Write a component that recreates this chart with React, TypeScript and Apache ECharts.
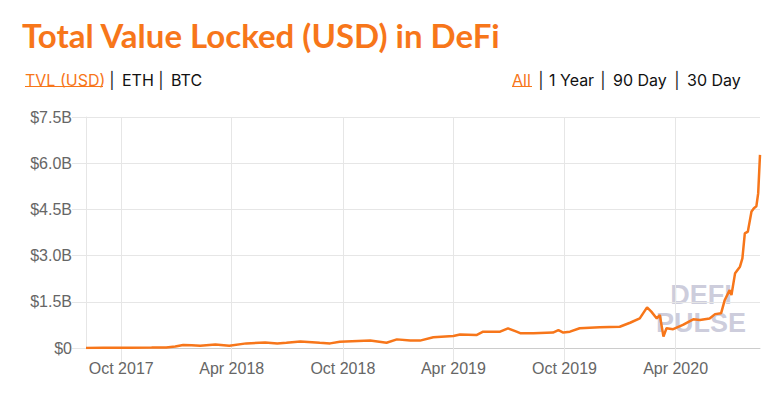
import React, { useEffect, useRef } from "react";
import * as echarts from "echarts";

const dates = [
  "2017-08-04", "2017-09-01", "2017-10-15", "2017-11-20", "2017-12-14", "2017-12-29",
  "2018-01-11", "2018-01-25", "2018-02-08", "2018-03-05", "2018-03-28", "2018-04-25",
  "2018-05-26", "2018-06-15", "2018-06-30", "2018-07-23", "2018-08-24", "2018-09-10",
  "2018-09-26", "2018-11-15", "2018-12-12", "2018-12-29", "2019-01-20", "2019-02-05",
  "2019-02-27", "2019-04-01", "2019-04-12", "2019-05-09", "2019-05-20", "2019-06-17",
  "2019-06-30", "2019-07-14", "2019-07-20", "2019-08-11", "2019-09-12", "2019-09-21",
  "2019-09-29", "2019-10-10", "2019-10-26", "2019-11-28", "2019-12-31", "2020-01-17",
  "2020-02-02", "2020-02-14", "2020-02-21", "2020-03-01", "2020-03-06", "2020-03-12",
  "2020-03-17", "2020-03-28", "2020-04-13", "2020-04-30", "2020-05-11", "2020-05-27",
  "2020-06-05", "2020-06-15", "2020-06-21", "2020-06-29", "2020-07-02", "2020-07-08",
  "2020-07-16", "2020-07-20", "2020-07-24", "2020-07-29", "2020-08-04", "2020-08-08",
  "2020-08-12", "2020-08-15", "2020-08-18",
];

// TVL in billions of USD
const tvlB = [
  0.0, 0.005, 0.01, 0.015, 0.02, 0.05,
  0.1, 0.09, 0.07, 0.11, 0.07, 0.15,
  0.18, 0.15, 0.17, 0.21, 0.17, 0.15,
  0.2, 0.24, 0.17, 0.28, 0.24, 0.24,
  0.35, 0.39, 0.44, 0.42, 0.53, 0.53,
  0.64, 0.53, 0.48, 0.48, 0.5, 0.58,
  0.5, 0.53, 0.64, 0.67, 0.69, 0.82,
  0.96, 1.32, 1.18, 0.96, 1.07, 0.37,
  0.64, 0.61, 0.75, 0.93, 0.91, 0.96,
  1.1, 1.13, 1.56, 1.88, 1.72, 2.43,
  2.64, 2.91, 3.72, 3.78, 4.43, 4.54,
  4.6, 5.02, 6.27,
];

const xTicks = ["2017-10-01", "2018-04-01", "2018-10-01", "2019-04-01", "2019-10-01", "2020-04-01"];
const monthNames = ["Jan", "Feb", "Mar", "Apr", "May", "Jun", "Jul", "Aug", "Sep", "Oct", "Nov", "Dec"];

const xMin = "2017-08-04";
const xMax = "2020-08-18";
const yMax = 7.5;
const yStep = 1.5;

const ORANGE = "#f7761a";
const GRID = "#e6e6e6";

export default function App() {
  const ref = useRef<HTMLDivElement>(null);

  useEffect(() => {
    if (!ref.current) return;
    const chart = echarts.init(ref.current, undefined, { renderer: "svg" });
    const ts = (s: string) => Date.parse(s + "T00:00:00Z");
    const data = dates.map((d, i) => [ts(d), tvlB[i]]);
    const tickVals = xTicks.map(ts);
    const linkFont = { fontFamily: "Inter", fontSize: 16 };
    const txt = (x: number, text: string, fill: string, align = "left") => ({
      type: "text",
      x,
      y: 80,
      style: { text, fill, ...linkFont, textAlign: align, textVerticalAlign: "middle" },
    });
    const wm = (text: string, y: number) => ({
      type: "text",
      x: 701,
      y,
      z: -10,
      style: {
        text,
        fill: "rgba(196,196,214,0.85)",
        fontFamily: "Liberation Sans",
        fontWeight: "bold",
        fontSize: 27,
        textAlign: "center",
        textVerticalAlign: "middle",
        textShadowColor: "rgba(150,150,175,0.35)",
        textShadowOffsetX: -2,
        textShadowOffsetY: 1,
        textShadowBlur: 0,
      },
    });
    chart.setOption({
      animation: false,
      backgroundColor: "#ffffff",
      grid: { left: 86, right: 19, top: 117, bottom: 45, containLabel: false },
      xAxis: {
        type: "value",
        min: ts(xMin),
        max: ts(xMax),
        axisLine: { show: true, lineStyle: { color: "#cccccc", width: 1 } },
        axisTick: { show: true, length: 14, lineStyle: { color: GRID }, customValues: tickVals },
        splitLine: { show: true, lineStyle: { color: GRID, width: 1 } },
        axisLabel: {
          customValues: tickVals,
          color: "#666666",
          fontFamily: "Liberation Sans",
          fontSize: 16,
          margin: 12,
          formatter: (v: number) => {
            const d = new Date(v);
            return monthNames[d.getUTCMonth()] + " " + d.getUTCFullYear();
          },
        },
      },
      yAxis: {
        type: "value",
        min: 0,
        max: yMax,
        interval: yStep,
        axisLine: { show: true, lineStyle: { color: GRID } },
        axisTick: { show: true, length: 14, lineStyle: { color: GRID } },
        splitLine: { show: true, lineStyle: { color: GRID } },
        axisLabel: {
          color: "#666666",
          fontFamily: "Liberation Sans",
          fontSize: 16,
          margin: 14,
          formatter: (v: number) => (v === 0 ? "$0" : "$" + v.toFixed(1) + "B"),
        },
      },
      graphic: [
        {
          type: "text",
          x: 22,
          y: 35,
          style: {
            text: "Total Value Locked (USD) in DeFi",
            fill: ORANGE,
            fontFamily: "Lato",
            fontWeight: "bold",
            fontSize: 33,
            textVerticalAlign: "middle",
          },
        },
        txt(25, "TVL (USD)", ORANGE),
        { type: "line", shape: { x1: 25, y1: 86.5, x2: 103, y2: 86.5 }, style: { stroke: ORANGE, lineWidth: 1 } },
        txt(112, "|", "#222222", "center"),
        txt(122, "ETH", "#111111"),
        txt(161, "|", "#222222", "center"),
        txt(171, "BTC", "#111111"),
        txt(512, "All", ORANGE),
        { type: "line", shape: { x1: 512, y1: 86.5, x2: 532, y2: 86.5 }, style: { stroke: ORANGE, lineWidth: 1 } },
        txt(541, "|", "#222222", "center"),
        txt(549, "1 Year", "#111111"),
        txt(603, "|", "#222222", "center"),
        txt(613, "90 Day", "#111111"),
        txt(677, "|", "#222222", "center"),
        txt(687, "30 Day", "#111111"),
        wm("DEFI", 295),
        wm("PULSE", 323),
      ],
      series: [
        {
          type: "line",
          data,
          showSymbol: false,
          symbol: "none",
          lineStyle: { color: ORANGE, width: 2.5 },
          z: 5,
        },
      ],
    });
    return () => chart.dispose();
  }, []);

  return <div ref={ref} style={{ position: "fixed", left: 0, top: 0, width: 779, height: 393 }} />;
}
